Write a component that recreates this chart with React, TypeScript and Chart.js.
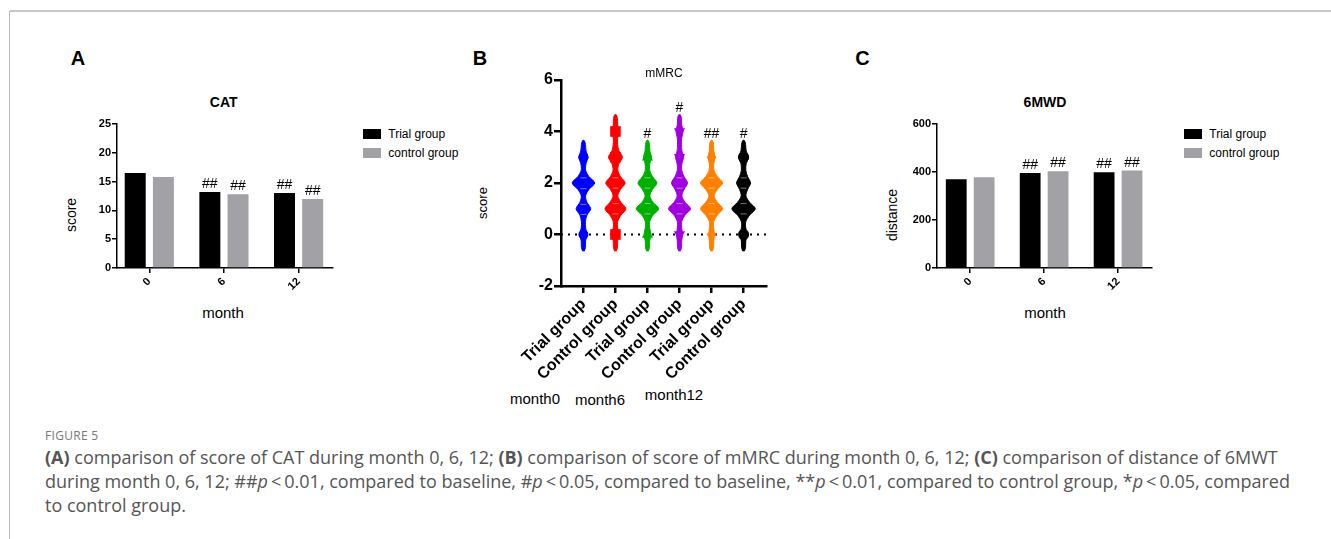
import React, { useEffect, useRef } from 'react';
import { Chart, registerables } from 'chart.js';
Chart.register(...registerables);

const FONT = "'Liberation Sans', Arial, Helvetica, sans-serif";

// ---------- Panel A: CAT ----------
const monthLabels = ['0', '6', '12'];
const monthIndex = [0, 1, 2];
const catTrial = [16.5, 13.2, 13.0];
const catControl = [15.8, 12.8, 12.0];
const catTrialMarks = ['', '##', '##'];
const catControlMarks = ['', '##', '##'];

// ---------- Panel C: 6MWD ----------
const mwdTrial = [370, 396, 399];
const mwdControl = [378, 403, 406];
const mwdTrialMarks = ['', '##', '##'];
const mwdControlMarks = ['', '##', '##'];

// ---------- Panel B: mMRC violins ----------
const groupLabels = ['Trial group', 'Control group', 'Trial group', 'Control group', 'Trial group', 'Control group'];
const groupColors = ['#0000ff', '#ff0000', '#00b000', '#a000e0', '#ff8000', '#000000'];
const groupMarks = ['', '', '#', '#', '##', '#'];
const levelsTo36 = [-0.65, -0.5, -0.25, 0, 0.25, 0.5, 0.75, 1, 1.25, 1.5, 1.75, 2, 2.25, 2.5, 2.75, 3, 3.25, 3.5, 3.65];
const levelsTo46 = [-0.65, -0.5, -0.25, 0, 0.25, 0.5, 0.75, 1, 1.25, 1.5, 1.75, 2, 2.25, 2.5, 2.75, 3, 3.25, 3.5, 3.75, 4, 4.25, 4.5, 4.65];
const densityTrial0 = [0.8, 2.0, 2.2, 3.5, 2.2, 2.0, 3.5, 7.3, 3.5, 2.2, 5.5, 11.3, 5.5, 2.2, 2.6, 4.5, 2.6, 2.0, 0.8];
const densityControl0 = [0.8, 2.0, 2.2, 3.5, 2.2, 2.2, 5.5, 10.5, 5.5, 2.4, 5.0, 9.7, 5.0, 2.4, 3.5, 7.0, 3.5, 2.2, 2.2, 3.5, 2.2, 2.0, 0.8];
const densityTrial6 = [0.8, 2.0, 2.2, 3.5, 2.2, 2.2, 5.5, 11.3, 5.5, 2.4, 5.0, 9.5, 5.0, 2.2, 2.4, 4.0, 2.4, 2.0, 0.8];
const densityControl6 = [0.8, 2.0, 2.2, 3.0, 2.2, 2.2, 5.5, 11.0, 5.5, 2.4, 4.5, 8.0, 4.5, 2.2, 2.4, 4.0, 2.4, 2.0, 2.2, 3.5, 2.2, 2.0, 0.8];
const densityTrial12 = [0.8, 2.0, 2.2, 2.8, 2.2, 2.2, 5.8, 11.0, 5.8, 2.6, 5.8, 11.0, 5.8, 2.4, 2.2, 3.5, 2.2, 2.0, 0.8];
const densityControl12 = [0.8, 2.0, 2.2, 4.0, 2.2, 2.2, 6.0, 11.7, 6.0, 2.4, 4.0, 7.0, 4.0, 2.2, 2.6, 5.0, 2.6, 2.0, 0.8];
const violinLevels = [levelsTo36, levelsTo46, levelsTo36, levelsTo46, levelsTo36, levelsTo36];
const violinDensity = [densityTrial0, densityControl0, densityTrial6, densityControl6, densityTrial12, densityControl12];
const pointScores = [[0, 1, 2, 3], [0, 1, 2, 3, 4], [0, 1, 2, 3], [0, 1, 2, 3, 4], [0, 1, 2, 3], [0, 1, 2, 3]];
const quartileMarks = [[0.78, 1.17, 1.78, 2.2], [0.8, 1.2, 1.8, 2.2], [0.8, 1.2, 1.8, 2.2], [0.8, 1.2, 1.8, 2.2], [0.8, 1.2, 1.8, 2.2], [0.8, 1.2, 1.8, 2.2]];
const markerStyles = ['circle', 'rect', 'triangle', 'triangle', 'rectRot', 'circle'];
const markerRotation = [0, 0, 0, 180, 0, 0];
const markerRadius = [5, 7.5, 6.5, 6.5, 5, 5.5];
const DENSITY_SCALE = 1 / 32;

function barHashPlugin(marks: string[][], offset: number) {
  return {
    id: 'barHash',
    afterDatasetsDraw(chart: any) {
      const ctx = chart.ctx;
      ctx.save();
      ctx.font = `14px ${FONT}`;
      ctx.fillStyle = '#000';
      ctx.textAlign = 'center';
      ctx.textBaseline = 'alphabetic';
      marks.forEach((list, d) => {
        const meta = chart.getDatasetMeta(d);
        list.forEach((t, i) => {
          const el = meta.data[i];
          if (t && el) ctx.fillText(t, el.x, el.y - offset);
        });
      });
      ctx.restore();
    },
  };
}

const violinHashPlugin = {
  id: 'violinHash',
  afterDatasetsDraw(chart: any) {
    const ctx = chart.ctx;
    const xs = chart.scales.x;
    const ys = chart.scales.y;
    ctx.save();
    ctx.font = `14px ${FONT}`;
    ctx.fillStyle = '#000';
    ctx.textAlign = 'center';
    ctx.textBaseline = 'alphabetic';
    groupMarks.forEach((t, i) => {
      if (!t) return;
      const lv = violinLevels[i];
      ctx.fillText(t, xs.getPixelForValue(i), ys.getPixelForValue(lv[lv.length - 1]) - 3);
    });
    ctx.restore();
  },
};

function barConfig(trial: number[], control: number[], marksT: string[], marksC: string[], yMax: number, yStep: number, xMin: number, xMax: number, padRight: number) {
  const tickFont = { family: FONT, size: 11, weight: 'bold' as const };
  return {
    type: 'bar' as const,
    data: {
      datasets: [
        { label: 'Trial group', data: monthIndex.map((m, i) => ({ x: m, y: trial[i] })), backgroundColor: '#000000', borderWidth: 0, barPercentage: 0.745, categoryPercentage: 0.755 },
        { label: 'control group', data: monthIndex.map((m, i) => ({ x: m, y: control[i] })), backgroundColor: '#a2a2a6', borderWidth: 0, barPercentage: 0.745, categoryPercentage: 0.755 },
      ],
    },
    options: {
      responsive: false,
      animation: false as const,
      events: [],
      layout: { padding: { top: 14, right: padRight, left: 0, bottom: 0 } },
      plugins: { legend: { display: false }, tooltip: { enabled: false }, title: { display: false } },
      scales: {
        x: {
          type: 'linear' as const,
          min: xMin,
          max: xMax,
          offset: false,
          afterBuildTicks: (s: any) => { s.ticks = monthIndex.map((v) => ({ value: v })); },
          afterFit: (s: any) => { s.height = 32; },
          ticks: { callback: (v: any) => monthLabels[v] ?? '', minRotation: 45, maxRotation: 45, autoSkip: false, color: '#000', font: tickFont, padding: 2 },
          grid: { display: true, drawOnChartArea: false, drawTicks: true, tickLength: 5, color: '#000', lineWidth: 1.5, offset: false },
          border: { display: true, color: '#000', width: 1.5 },
        },
        y: {
          min: 0,
          max: yMax,
          afterFit: (s: any) => { s.width = 37; },
          ticks: { stepSize: yStep, color: '#000', font: tickFont, padding: 1 },
          grid: { display: true, drawOnChartArea: false, drawTicks: true, tickLength: 5, color: '#000', lineWidth: 1.5 },
          border: { display: true, color: '#000', width: 1.5 },
        },
      },
    },
    plugins: [barHashPlugin([marksT, marksC], 4)],
  };
}

function violinConfig() {
  const tickFont = { family: FONT, size: 16, weight: 'bold' as const };
  const datasets: any[] = [];
  datasets.push({
    type: 'line', data: [{ x: -0.7, y: 0 }, { x: 5.7, y: 0 }], borderColor: '#000', borderWidth: 2,
    borderDash: [2, 5], pointRadius: 0, fill: false, order: 3,
  });
  groupLabels.forEach((_, i) => {
    const lv = violinLevels[i];
    const dn = violinDensity[i];
    const left = lv.map((y, k) => ({ x: i - dn[k] * DENSITY_SCALE, y }));
    const right = lv.map((y, k) => ({ x: i + dn[k] * DENSITY_SCALE, y })).reverse();
    datasets.push({
      type: 'line', data: [...left, ...right], backgroundColor: groupColors[i], borderColor: groupColors[i],
      borderWidth: 1, pointRadius: 0, fill: 'shape', tension: 0.3, order: 2,
    });
    datasets.push({
      type: 'line', showLine: false, data: pointScores[i].map((v) => ({ x: i, y: v })),
      pointStyle: markerStyles[i], pointRotation: markerRotation[i], pointRadius: markerRadius[i],
      backgroundColor: groupColors[i], borderColor: groupColors[i], borderWidth: 0, order: 1,
    });
    datasets.push({
      type: 'line', showLine: false, data: quartileMarks[i].map((v) => ({ x: i, y: v })),
      pointStyle: 'line', pointRadius: 3, borderColor: 'rgba(255,255,255,0.45)', borderWidth: 1, order: 0,
    });
  });
  return {
    type: 'line' as const,
    data: { datasets },
    options: {
      responsive: false,
      animation: false as const,
      events: [],
      layout: { padding: { top: 15, right: 14, left: 0, bottom: 0 } },
      plugins: { legend: { display: false }, tooltip: { enabled: false }, title: { display: false } },
      scales: {
        x: {
          type: 'linear' as const,
          min: -0.7,
          max: 5.7,
          afterBuildTicks: (s: any) => { s.ticks = groupLabels.map((_, i) => ({ value: i })); },
          afterFit: (s: any) => { s.height = 99; },
          ticks: { callback: (v: any) => groupLabels[v] ?? '', minRotation: 45, maxRotation: 45, autoSkip: false, color: '#000', font: tickFont, padding: 2 },
          grid: { display: true, drawOnChartArea: false, drawTicks: true, tickLength: 7, color: '#000', lineWidth: 2.5 },
          border: { display: true, color: '#000', width: 2.5 },
        },
        y: {
          min: -2,
          max: 6,
          afterFit: (s: any) => { s.width = 66; },
          ticks: { stepSize: 2, color: '#000', font: tickFont, padding: 1 },
          grid: { display: true, drawOnChartArea: false, drawTicks: true, tickLength: 7, color: '#000', lineWidth: 2.5 },
          border: { display: true, color: '#000', width: 2.5 },
        },
      },
    },
    plugins: [violinHashPlugin],
  };
}

function ChartCanvas({ make, left, top, width, height }: { make: () => any; left: number; top: number; width: number; height: number }) {
  const ref = useRef<HTMLCanvasElement>(null);
  useEffect(() => {
    const chart = new Chart(ref.current as HTMLCanvasElement, make());
    return () => chart.destroy();
  }, []);
  return <canvas ref={ref} width={width} height={height} style={{ position: 'absolute', left, top, width, height }} />;
}

function Txt({ x, y, size, bold, rot, children, color, family }: any) {
  return (
    <div style={{
      position: 'absolute', left: x, top: y, transform: `translate(-50%, -50%) rotate(${rot || 0}deg)`,
      fontSize: size, fontWeight: bold ? 700 : 400, lineHeight: 1, whiteSpace: 'nowrap',
      fontFamily: family || FONT, color: color || '#000',
    }}>{children}</div>
  );
}

function Legend({ x, y }: { x: number; y: number }) {
  const items = [{ c: '#000000', t: 'Trial group' }, { c: '#a2a2a6', t: 'control group' }];
  return (
    <>
      {items.map((it, i) => (
        <React.Fragment key={i}>
          <div style={{ position: 'absolute', left: x, top: y + i * 19.3, width: 18, height: 10, background: it.c }} />
          <div style={{ position: 'absolute', left: x + 25.3, top: y + 5 + i * 19.3, transform: 'translate(0,-50%)', fontSize: 12, lineHeight: 1, fontFamily: FONT, whiteSpace: 'nowrap', color: '#000' }}>{it.t}</div>
        </React.Fragment>
      ))}
    </>
  );
}

export default function App() {
  const capFont = "'Open Sans', Lato, sans-serif";
  const lt = '\u2009<\u2009';
  return (
    <div style={{ position: 'absolute', left: 0, top: 0, width: 1331, height: 539, background: '#fff', overflow: 'hidden' }}>
      <div style={{ position: 'absolute', left: 10, top: 10, width: 1321, height: 2, background: '#c8c8c8' }} />
      <div style={{ position: 'absolute', left: 9, top: 11, width: 1, height: 528, background: '#bdbdbd' }} />

      <Txt x={78} y={57.5} size={20} bold>A</Txt>
      <Txt x={480} y={57.5} size={20} bold>B</Txt>
      <Txt x={862.5} y={57.5} size={20} bold>C</Txt>

      <ChartCanvas make={() => barConfig(catTrial, catControl, catTrialMarks, catControlMarks, 25, 5, -0.4327, 2.461, 7)} left={80} top={110} width={260} height={190} />
      <Txt x={223.7} y={101.7} size={14} bold>CAT</Txt>
      <Txt x={71} y={215} size={14} rot={-90}>score</Txt>
      <Txt x={223} y={311.7} size={15}>month</Txt>
      <Legend x={363} y={129} />

      <ChartCanvas make={violinConfig} left={495} top={65} width={285} height={320} />
      <Txt x={664} y={73} size={12}>mMRC</Txt>
      <Txt x={481.7} y={203} size={13} rot={-90}>score</Txt>
      <Txt x={535} y={397.5} size={15}>month0</Txt>
      <Txt x={600} y={399} size={15}>month6</Txt>
      <Txt x={674} y={394} size={15}>month12</Txt>

      <ChartCanvas make={() => barConfig(mwdTrial, mwdControl, mwdTrialMarks, mwdControlMarks, 600, 200, -0.449, 2.459, 8)} left={900} top={110} width={260} height={190} />
      <Txt x={1045} y={101.7} size={14} bold>6MWD</Txt>
      <Txt x={891.7} y={215} size={14} rot={-90}>distance</Txt>
      <Txt x={1045} y={311.7} size={15}>month</Txt>
      <Legend x={1184} y={129} />

      <div style={{ position: 'absolute', left: 45, top: 430, fontSize: 12, lineHeight: '12px', fontFamily: capFont, color: '#777', letterSpacing: 0.3 }}>FIGURE 5</div>
      <div style={{ position: 'absolute', left: 45, top: 445, fontSize: 18, lineHeight: '24px', fontFamily: capFont, color: '#555', whiteSpace: 'nowrap' }}>
        <b>(A)</b> comparison of score of CAT during month 0, 6, 12; <b>(B)</b> comparison of score of mMRC during month 0, 6, 12; <b>(C)</b> comparison of distance of 6MWT<br />
        during month 0, 6, 12; ##<i>p</i>{lt}0.01, compared to baseline, #<i>p</i>{lt}0.05, compared to baseline, **<i>p</i>{lt}0.01, compared to control group, *<i>p</i>{lt}0.05, compared<br />
        to control group.
      </div>
    </div>
  );
}
